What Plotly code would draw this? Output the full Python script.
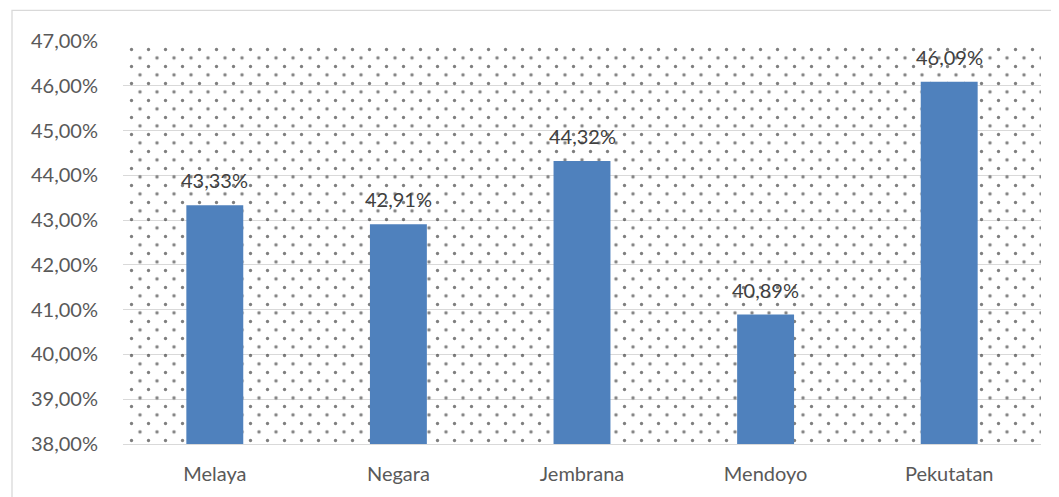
import plotly.graph_objects as go

categories = ["Melaya", "Negara", "Jembrana", "Mendoyo", "Pekutatan"]
values = [43.33, 42.91, 44.32, 40.89, 46.09]
y_min, y_max = 38, 47

FONT = "Lato"
# page body adds an 8px offset; compensate
W, H = 1051, 489
L, T = 115, 33
R, B = W - 1033, H - 441
pw, ph = W - L - R, H - T - B

TILE = 17
OFF = TILE / 2
dots = dict(shape=".", size=TILE, solidity=0.03,
            fgcolor="black", bgcolor="rgba(0,0,0,0)", fillmode="overlay")

fig = go.Figure()

# dotted plot-area background, grid A
fig.add_trace(go.Bar(
    x=[0.5], y=[y_max - y_min], base=[y_min], width=[1],
    xaxis="x", yaxis="y",
    marker=dict(color="rgba(0,0,0,0)", line=dict(width=0), pattern=dots),
    hoverinfo="skip", showlegend=False,
))
# grid B (staggered by half a tile)
fig.add_trace(go.Bar(
    x=[0.5], y=[1], base=[0], width=[1],
    xaxis="x2", yaxis="y2",
    marker=dict(color="rgba(0,0,0,0)", line=dict(width=0), pattern=dots),
    hoverinfo="skip", showlegend=False,
))

# data bars
fig.add_trace(go.Bar(
    x=categories, y=[v - y_min for v in values], base=[y_min] * len(values),
    width=0.31, xaxis="x3", yaxis="y3",
    marker=dict(color="#4F81BD", line=dict(width=0)),
    showlegend=False,
))

for c, v in zip(categories, values):
    fig.add_annotation(
        x=c, y=v, xref="x3", yref="y3", text=f"{v:.2f}%".replace(".", ","),
        showarrow=False, yanchor="bottom", yshift=11,
        font=dict(family=FONT, size=20, color="#404040"),
    )

# chart border (only top/left edges visible)
fig.add_shape(type="rect", xref="paper", yref="paper",
              x0=(4 - L) / pw, x1=1.3,
              y0=-0.5, y1=(ph + T - 2) / ph,
              line=dict(color="#d9d9d9", width=1.3), layer="below")

fig.update_layout(
    width=W, height=H,
    margin=dict(l=L, r=R, t=T, b=B),
    paper_bgcolor="white", plot_bgcolor="rgba(0,0,0,0)",
    separators=",.",
    barmode="overlay",
    xaxis=dict(range=[0, 1], visible=False, fixedrange=True, domain=[0, 1]),
    yaxis=dict(range=[y_min, y_max], dtick=1, tick0=38, domain=[0, 1],
               tickformat=".2f", ticksuffix="%",
               showgrid=True, gridcolor="#d9d9d9", gridwidth=1,
               zeroline=False, showline=False,
               ticks="outside", ticklen=20, tickcolor="rgba(0,0,0,0)",
               tickfont=dict(family=FONT, size=20, color="#595959")),
    xaxis2=dict(range=[0, 1], visible=False, anchor="y2", domain=[OFF / pw, 1]),
    yaxis2=dict(range=[0, 1], visible=False, anchor="x2", domain=[0, 1 - OFF / ph]),
    xaxis3=dict(type="category", anchor="y3", domain=[0, 1], showgrid=False,
                showline=True, linecolor="#d9d9d9", linewidth=1,
                ticks="outside", ticklen=12, tickcolor="rgba(0,0,0,0)",
                tickfont=dict(family=FONT, size=20, color="#595959")),
    yaxis3=dict(range=[y_min, y_max], anchor="x3", domain=[0, 1], visible=False),
)

fig.write_html("out.html")
